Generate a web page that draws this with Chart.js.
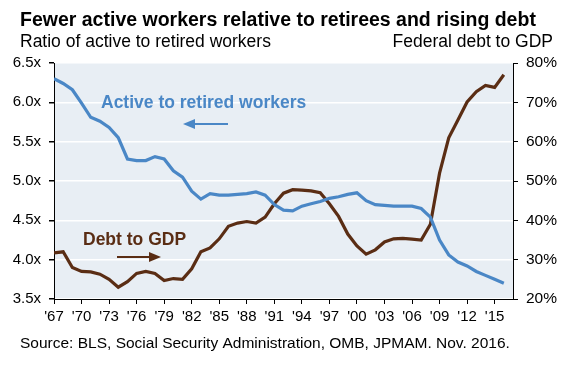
<!DOCTYPE html>
<html lang="en">
<head>
    <meta charset="UTF-8">
    <title>Active workers and debt</title>
    <style>
        body { margin: 0; background: #fff; }
        canvas { display: block; }
    </style>
</head>
<body>
    <canvas id="myChart" width="571" height="368"></canvas>
    <script src="https://cdn.jsdelivr.net/npm/chart.js"></script>
    <script>
        // data
        const years = [1967, 1968, 1969, 1970, 1971, 1972, 1973, 1974, 1975, 1976,
                       1977, 1978, 1979, 1980, 1981, 1982, 1983, 1984, 1985, 1986,
                       1987, 1988, 1989, 1990, 1991, 1992, 1993, 1994, 1995, 1996,
                       1997, 1998, 1999, 2000, 2001, 2002, 2003, 2004, 2005, 2006,
                       2007, 2008, 2009, 2010, 2011, 2012, 2013, 2014, 2015, 2016]
        const activeToRetired = [6.30, 6.24, 6.16, 5.99, 5.81, 5.76, 5.68, 5.55, 5.28, 5.26,
                                 5.26, 5.31, 5.28, 5.13, 5.05, 4.87, 4.77, 4.84, 4.82, 4.82,
                                 4.83, 4.84, 4.86, 4.82, 4.70, 4.63, 4.62, 4.68, 4.71, 4.74,
                                 4.78, 4.80, 4.83, 4.85, 4.75, 4.70, 4.69, 4.68, 4.68, 4.68,
                                 4.65, 4.54, 4.25, 4.06, 3.97, 3.92, 3.85, 3.80, 3.75, 3.70]
        const debtToGdp = [31.7, 32.0, 28.0, 27.0, 26.9, 26.3, 25.0, 23.0, 24.4, 26.5,
                           27.0, 26.5, 24.7, 25.2, 25.0, 27.7, 32.0, 33.0, 35.3, 38.5,
                           39.3, 39.7, 39.3, 40.8, 44.2, 46.9, 47.8, 47.7, 47.5, 47.0,
                           44.2, 41.0, 36.5, 33.5, 31.4, 32.5, 34.5, 35.3, 35.4, 35.2,
                           35.0, 39.0, 52.0, 61.0, 65.5, 70.1, 72.7, 74.3, 73.8, 77.0]
        const tickYears = [1967, 1970, 1973, 1976, 1979, 1982, 1985, 1988, 1991,
                           1994, 1997, 2000, 2003, 2006, 2009, 2012, 2015]

        const BLUE = '#4a87c6'
        const BROWN = '#5a2d14'
        const FONT = '"Liberation Sans", Arial, sans-serif'

        const arrow = (ctx, x1, x2, y, color) => {
            const dir = Math.sign(x2 - x1)
            ctx.strokeStyle = color
            ctx.fillStyle = color
            ctx.lineWidth = 2
            ctx.beginPath()
            ctx.moveTo(x1, y)
            ctx.lineTo(x2 - dir * 8, y)
            ctx.stroke()
            ctx.beginPath()
            ctx.moveTo(x2, y)
            ctx.lineTo(x2 - dir * 12, y - 5)
            ctx.lineTo(x2 - dir * 12, y + 5)
            ctx.closePath()
            ctx.fill()
        }

        const decor = {
            id: 'decor',
            beforeDraw(chart) {
                const { ctx, chartArea: a } = chart
                ctx.save()
                ctx.fillStyle = '#e8eef4'
                ctx.fillRect(a.left, a.top, a.right - a.left, a.bottom - a.top)
                ctx.restore()
            },
            afterDraw(chart) {
                const ctx = chart.ctx
                ctx.save()
                ctx.textBaseline = 'middle'
                ctx.fillStyle = '#000'
                ctx.font = 'bold 19.5px ' + FONT
                ctx.textAlign = 'left'
                ctx.fillText('Fewer active workers relative to retirees and rising debt', 20, 21)
                ctx.font = '17.5px ' + FONT
                ctx.fillText('Ratio of active to retired workers', 20, 42)
                ctx.textAlign = 'right'
                ctx.fillText('Federal debt to GDP', 553, 42)
                ctx.textAlign = 'left'
                ctx.font = '15.5px ' + FONT
                ctx.fillText('Source: BLS, Social Security Administration, OMB, JPMAM. Nov. 2016.', 20, 344)

                ctx.font = 'bold 17.5px ' + FONT
                ctx.fillStyle = BLUE
                ctx.fillText('Active to retired workers', 101, 103)
                arrow(ctx, 228, 183, 124, BLUE)
                ctx.fillStyle = BROWN
                ctx.fillText('Debt to GDP', 83, 240)
                arrow(ctx, 117, 161, 257, BROWN)
                ctx.restore()
            }
        }

        const ctx = document.getElementById('myChart')
        const myChart = new Chart(ctx, {
            type: 'line',
            data: {
                datasets: [{
                    label: 'Active to retired workers',
                    data: years.map((y, i) => ({ x: y, y: activeToRetired[i] })),
                    borderColor: BLUE,
                    borderWidth: 3.2,
                    pointRadius: 0,
                    yAxisID: 'y'
                }, {
                    label: 'Debt to GDP',
                    data: years.map((y, i) => ({ x: y, y: debtToGdp[i] })),
                    borderColor: BROWN,
                    borderWidth: 3.2,
                    pointRadius: 0,
                    yAxisID: 'y1'
                }]
            },
            options: {
                responsive: false,
                animation: false,
                devicePixelRatio: 1,
                layout: { padding: { top: 63, left: 0, right: 0, bottom: 0 } },
                plugins: {
                    legend: { display: false },
                    tooltip: { enabled: false }
                },
                scales: {
                    x: {
                        type: 'linear',
                        min: 1967,
                        max: 2017,
                        afterBuildTicks: (s) => { s.ticks = tickYears.map(v => ({ value: v })) },
                        afterFit: (s) => { s.height = 69 },
                        grid: { drawOnChartArea: false, tickColor: '#000', tickLength: 5 },
                        border: { color: '#000' },
                        ticks: {
                            autoSkip: false,
                            maxRotation: 0,
                            padding: 4,
                            color: '#000',
                            font: { family: FONT, size: 15 },
                            callback: (v) => "'" + String(v).slice(2)
                        }
                    },
                    y: {
                        position: 'left',
                        min: 3.5,
                        max: 6.5,
                        afterFit: (s) => { s.width = 54 },
                        grid: { color: '#ffffff', lineWidth: 1.5, tickColor: '#000', tickLength: 5 },
                        border: { color: '#000' },
                        ticks: {
                            stepSize: 0.5,
                            padding: 8,
                            color: '#000',
                            font: { family: FONT, size: 15 },
                            callback: (v) => v.toFixed(1) + 'x'
                        }
                    },
                    y1: {
                        position: 'right',
                        min: 20,
                        max: 80,
                        afterFit: (s) => { s.width = 58 },
                        grid: { drawOnChartArea: false, tickColor: '#000', tickLength: 5 },
                        border: { color: '#000' },
                        ticks: {
                            stepSize: 10,
                            padding: 8,
                            color: '#000',
                            font: { family: FONT, size: 15.5 },
                            callback: (v) => v + '%'
                        }
                    }
                }
            },
            plugins: [decor]
        })
    </script>
</body>
</html>
